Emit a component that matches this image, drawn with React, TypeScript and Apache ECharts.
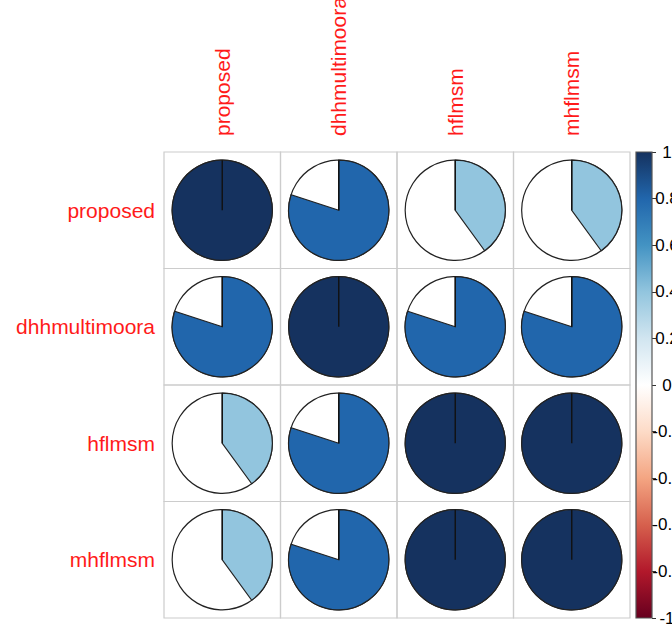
import React, { useEffect, useRef } from "react";
import * as echarts from "echarts";

const variables = ["proposed", "dhhmultimoora", "hflmsm", "mhflmsm"];
const corrProposed = [1, 0.8, 0.4, 0.4];
const corrDhh = [0.8, 1, 0.8, 0.8];
const corrHflmsm = [0.4, 0.8, 1, 1];
const corrMhflmsm = [0.4, 0.8, 1, 1];
const corrRows = [corrProposed, corrDhh, corrHflmsm, corrMhflmsm];

// RdBu palette from -1 (index 0) to +1 (last)
const palette = [
  "#67001F", "#B2182B", "#D6604D", "#F4A582", "#FDDBC7", "#FFFFFF",
  "#D1E5F0", "#92C5DE", "#4393C3", "#2166AC", "#15325F",
];

function hexToRgb(h: string) {
  const n = parseInt(h.slice(1), 16);
  return [(n >> 16) & 255, (n >> 8) & 255, n & 255];
}
function colorFor(v: number) {
  const t = ((v + 1) / 2) * (palette.length - 1);
  const i = Math.min(Math.floor(t), palette.length - 2);
  const f = t - i;
  const a = hexToRgb(palette[i]);
  const b = hexToRgb(palette[i + 1]);
  const c = a.map((x, k) => Math.round(x + (b[k] - x) * f));
  return `rgb(${c[0]},${c[1]},${c[2]})`;
}

const FONT = "Liberation Sans, Arial, Helvetica, sans-serif";

export default function App() {
  const ref = useRef<HTMLDivElement>(null);
  useEffect(() => {
    if (!ref.current) return;
    const chart = echarts.init(ref.current, undefined, { renderer: "svg" });
    const cells: number[][] = [];
    corrRows.forEach((row, r) => row.forEach((v, c) => cells.push([c, r, v])));

    const stops = palette
      .slice()
      .reverse()
      .map((col, i) => ({ offset: i / (palette.length - 1), color: col }));

    chart.setOption({
      animation: false,
      grid: [
        { left: 164, top: 152, width: 466, height: 466, containLabel: false, outerBoundsMode: "none" },
        { left: 636, top: 152, width: 16, height: 466, containLabel: false, outerBoundsMode: "none" },
      ],
      xAxis: [
        {
          type: "category",
          data: variables,
          position: "top",
          gridIndex: 0,
          axisLine: { show: false },
          axisTick: { show: false },
          splitLine: { show: false },
          axisLabel: {
            rotate: -90,
            margin: 16,
            fontSize: 21,
            color: "#ff1a1a",
            fontFamily: FONT,
          },
        },
        {
          type: "category",
          data: ["bar"],
          gridIndex: 1,
          show: false,
        },
      ],
      yAxis: [
        {
          type: "category",
          data: variables,
          inverse: true,
          gridIndex: 0,
          axisLine: { show: false },
          axisTick: { show: false },
          splitLine: { show: false },
          axisLabel: {
            margin: 9,
            fontSize: 21,
            color: "#ff1a1a",
            fontFamily: FONT,
          },
        },
        {
          type: "value",
          gridIndex: 1,
          min: -1,
          max: 1,
          interval: 0.2,
          position: "right",
          axisLine: { show: false },
          splitLine: { show: false },
          axisTick: { show: true, length: 4, lineStyle: { color: "#333", width: 1 } },
          axisLabel: {
            margin: 15,
            align: "center",
            fontSize: 17,
            color: "#000",
            fontFamily: FONT,
            formatter: (v: number) => String(Math.round(v * 10) / 10),
          },
        },
      ],
      series: [
        {
          type: "custom",
          xAxisIndex: 0,
          yAxisIndex: 0,
          data: cells,
          renderItem: (params: any, api: any) => {
            const c = api.value(0);
            const r = api.value(1);
            const v = api.value(2);
            const [cx, cy] = api.coord([c, r]);
            const [w, h] = api.size([1, 1]);
            const rad = Math.min(w, h) * 0.43;
            const start = -Math.PI / 2;
            const end = start + 2 * Math.PI * Math.abs(v);
            const col = colorFor(v);
            return {
              type: "group",
              children: [
                {
                  type: "rect",
                  shape: { x: cx - w / 2, y: cy - h / 2, width: w, height: h },
                  style: { fill: "none", stroke: "#cccccc", lineWidth: 1.2 },
                },
                {
                  type: "circle",
                  shape: { cx, cy, r: rad },
                  style: { fill: "#ffffff", stroke: "#222", lineWidth: 1.2 },
                },
                {
                  type: "sector",
                  shape: {
                    cx,
                    cy,
                    r0: 0,
                    r: rad,
                    startAngle: start,
                    endAngle: end,
                    clockwise: v >= 0,
                  },
                  style: { fill: col, stroke: "#222", lineWidth: 1.2 },
                },
                {
                  type: "line",
                  shape: { x1: cx, y1: cy, x2: cx, y2: cy - rad },
                  style: { stroke: "#111", lineWidth: 1.4 },
                },
              ],
            };
          },
        },
        {
          type: "custom",
          xAxisIndex: 1,
          yAxisIndex: 1,
          data: [[0, 1, -1]],
          encode: { x: 0, y: [1, 2] },
          renderItem: (params: any, api: any) => {
            const top = api.coord([0, api.value(1)]);
            const bottom = api.coord([0, api.value(2)]);
            const w = api.size([1, 0])[0];
            return {
              type: "rect",
              shape: { x: top[0] - w / 2, y: top[1], width: w, height: bottom[1] - top[1] },
              style: {
                fill: new echarts.graphic.LinearGradient(0, 0, 0, 1, stops),
                stroke: "#555",
                lineWidth: 1.2,
              },
            };
          },
        },
      ],
    });
    return () => chart.dispose();
  }, []);
  return (
    <div
      ref={ref}
      style={{ position: "fixed", left: 0, top: 0, width: 672, height: 625, background: "#fff" }}
    />
  );
}
